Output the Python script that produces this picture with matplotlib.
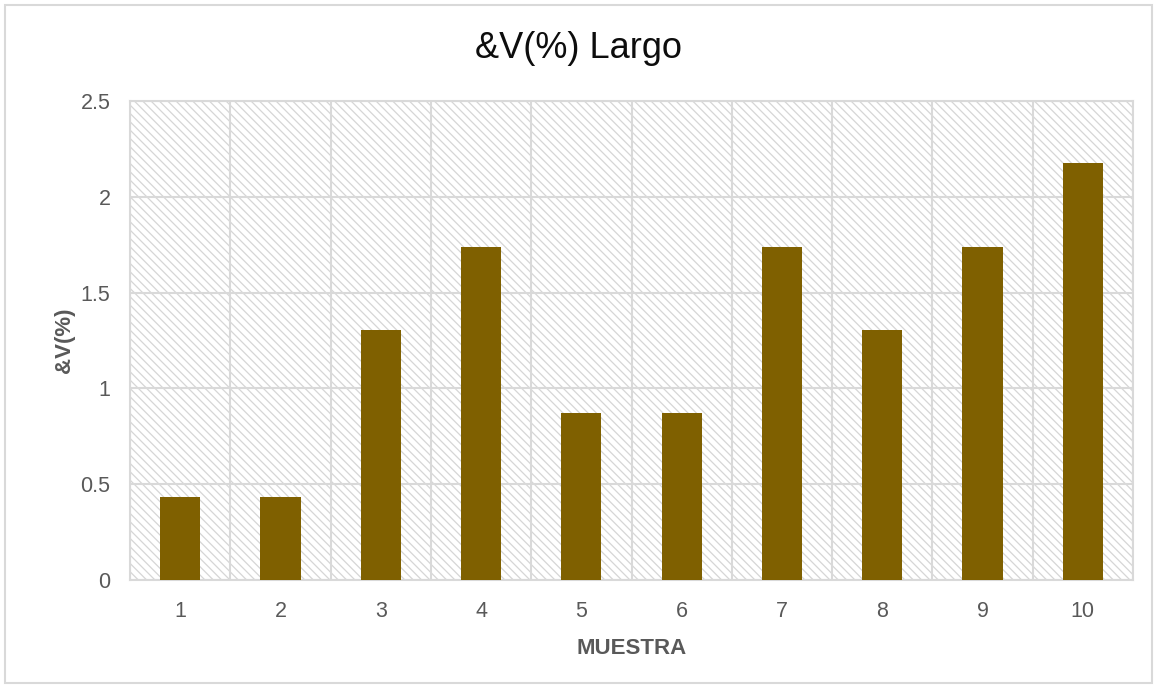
import matplotlib
matplotlib.use("Agg")
import matplotlib.pyplot as plt
from matplotlib.patches import Rectangle

plt.rcParams['font.family'] = ['Liberation Sans', 'DejaVu Sans']
plt.rcParams['hatch.linewidth'] = 0.9

muestras = ['1', '2', '3', '4', '5', '6', '7', '8', '9', '10']
valores = [0.435, 0.435, 1.304, 1.739, 0.870, 0.870, 1.739, 1.304, 1.739, 2.174]
yticks = [0, 0.5, 1, 1.5, 2, 2.5]
ytick_labels = ['0', '0.5', '1', '1.5', '2', '2.5']

fig = plt.figure(figsize=(11.57, 6.88), dpi=100)
ax = fig.add_axes([130/1157, 1-580/688, (1133-130)/1157, (580-101)/688])

x = list(range(len(muestras)))
ax.set_xlim(-0.5, len(muestras) - 0.5)
ax.set_ylim(0, 2.5)

# hatched background
ax.add_patch(Rectangle((-0.5, 0), len(muestras), 2.5, facecolor='white',
                       edgecolor='#D6D6D6', lw=0, hatch='\\\\\\\\', zorder=0))

grid_c = '#D9D9D9'
for yv in yticks:
    ax.axhline(yv, color=grid_c, lw=1.5, zorder=1)
for i in range(len(muestras) + 1):
    ax.axvline(i - 0.5, color=grid_c, lw=1.5, zorder=1)

ax.bar(x, valores, width=0.4, color='#7F6000', zorder=3)

for s in ax.spines.values():
    s.set_color(grid_c)
    s.set_linewidth(1.5)

ax.set_xticks(x)
ax.set_xticklabels(muestras)
ax.set_yticks(yticks)
ax.set_yticklabels(ytick_labels)
ax.tick_params(axis='both', length=0, labelsize=15.5, labelcolor='#595959')
ax.tick_params(axis='x', pad=15)
ax.tick_params(axis='y', pad=14)

ax.set_xlabel('MUESTRA', fontsize=16, fontweight='bold', color='#595959', labelpad=12)
ax.set_ylabel('&V(%)', fontsize=16, fontweight='bold', color='#595959', labelpad=4)

fig.text(0.5, 1 - 48/688, '&V(%) Largo', ha='center', va='center', fontsize=26, color='#0D0D0D')

fig.add_artist(Rectangle((5/1157, 5/688), 1 - 10/1157, 1 - 10/688,
                         transform=fig.transFigure, facecolor='none',
                         edgecolor='#D9D9D9', lw=1.5))

fig.savefig('out.png', dpi=100)
